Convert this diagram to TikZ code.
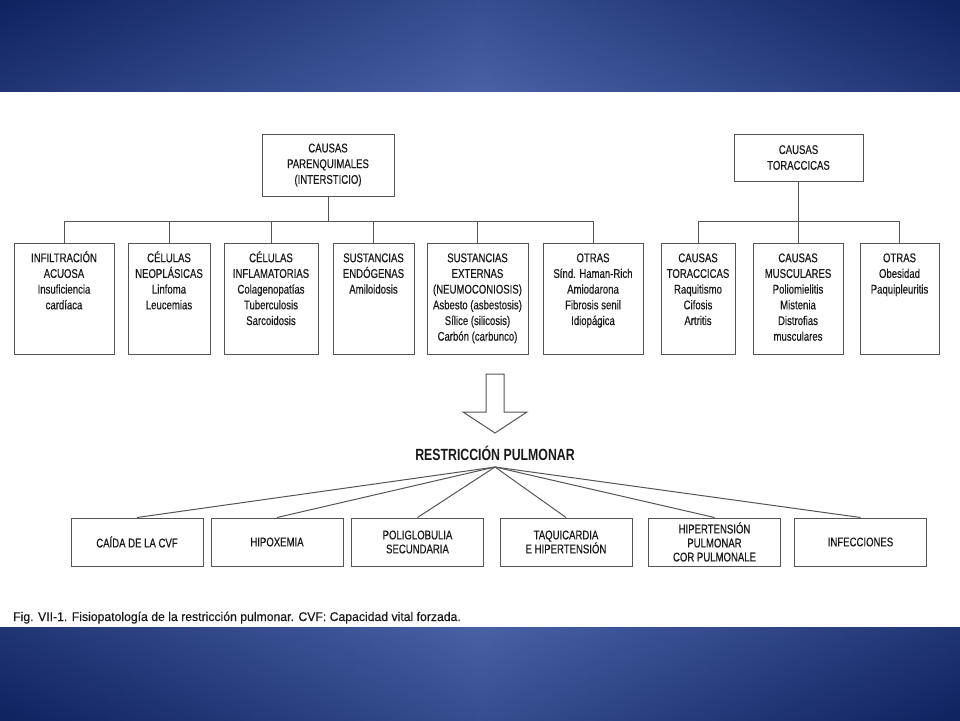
\documentclass[tikz,border=0pt]{standalone}
\usepackage{fontspec}
\setmainfont{Liberation Sans}[FakeStretch=0.76, UprightFeatures={FakeBold=0.4}]
\newfontfamily\pie{Liberation Sans}[FakeStretch=0.97, UprightFeatures={FakeBold=0.3}]
\usetikzlibrary{positioning}

\definecolor{azulclaro}{RGB}{72,98,165}
\definecolor{azulosc}{RGB}{16,34,96}
\definecolor{linea}{RGB}{85,85,85}
\definecolor{tinta}{RGB}{25,25,25}

\tikzset{
  caja/.style = {draw = linea, line width = 1pt, inner sep = 0pt},
  texto/.style = {align = center, text = tinta, inner sep = 0pt, font = \fontsize{12.6}{15.7}\selectfont},
  efecto/.style = {align = center, text = tinta, inner sep = 0pt, font = \fontsize{12.6}{14}\selectfont},
  rama/.style = {draw = linea, line width = 1pt},
  banda/.style = {left color = azulosc, right color = azulosc, middle color = azulclaro}
}

\begin{document}
\begin{tikzpicture}[x = 1pt, y = -1pt]
\useasboundingbox (0,0) rectangle (960,720);

% fondo azul
\shade[banda] (0,0) rectangle (960,92);
\shade[banda] (0,627) rectangle (960,720);
\shade[top color = azulosc, bottom color = azulclaro, opacity = 0.3] (0,0) rectangle (960,92);
\shade[top color = azulclaro, bottom color = azulosc, opacity = 0.3] (0,627) rectangle (960,720);
\fill[white] (0,92) rectangle (960,627);

% causas
\node[caja, texto, minimum width = 132, minimum height = 62] (parenq) at (328,165) {CAUSAS\\PARENQUIMALES\\(INTERSTICIO)};
\node[caja, texto, minimum width = 129, minimum height = 47] (torac) at (798.5,157.5) {CAUSAS\\TORACCICAS};

\foreach \n/\cx/\w/\txt in {
  infil/64/100/{INFILTRACIÓN\\ACUOSA\\Insuficiencia\\cardíaca},
  neopl/169/82/{CÉLULAS\\NEOPLÁSICAS\\Linfoma\\Leucemias},
  inflam/271/94/{CÉLULAS\\INFLAMATORIAS\\Colagenopatías\\Tuberculosis\\Sarcoidosis},
  endog/373.5/81/{SUSTANCIAS\\ENDÓGENAS\\Amiloidosis},
  extern/477.5/101/{SUSTANCIAS\\EXTERNAS\\(NEUMOCONIOSIS)\\Asbesto (asbestosis)\\Sílice (silicosis)\\Carbón (carbunco)},
  otras/593/100/{OTRAS\\Sínd. Haman-Rich\\Amiodarona\\Fibrosis senil\\Idiopágica},
  toracb/698/74/{CAUSAS\\TORACCICAS\\Raquitismo\\Cifosis\\Artritis},
  musc/798/90/{CAUSAS\\MUSCULARES\\Poliomielitis\\Mistenia\\Distrofias\\musculares},
  otrasb/899.5/79/{OTRAS\\Obesidad\\Paquipleuritis}}
{
  \node[caja, minimum width = \w, minimum height = 111] (\n) at (\cx,298.5) {};
  \node[texto, anchor = north] (\n-t) at ([yshift = -8.5pt] \n.north) {\strut\txt};
}

\coordinate (bus) at (0,221);
\draw[rama] (parenq.south) -- (parenq.south |- bus);
\draw[rama] (infil.north) -- (infil.north |- bus) -- (otras.north |- bus) -- (otras.north);
\foreach \n in {neopl, inflam, endog, extern}
  \draw[rama] (\n.north) -- (\n.north |- bus);

\draw[rama] (torac.south) -- (torac.south |- musc.north);
\draw[rama] (toracb.north) -- (toracb.north |- bus) -- (otrasb.north |- bus) -- (otrasb.north);

% flecha
\draw[rama, fill = white] (486,374) -- (504,374) -- (504,412) -- (527,412) -- (495,433) -- (463,412) -- (486,412) -- cycle;

\node[text = tinta, inner sep = 0pt, anchor = base, font = \bfseries\fontsize{16.2}{18}\selectfont] (restr) at (495,460) {RESTRICCIÓN PULMONAR};
\coordinate (abanico) at (495,467);

% consecuencias
\foreach \n/\cx/\txt in {
  cvf/137/{CAÍDA DE LA CVF},
  hipox/277/{HIPOXEMIA},
  poli/417.5/{POLIGLOBULIA\\SECUNDARIA},
  taqui/566/{TAQUICARDIA\\E HIPERTENSIÓN},
  hiper/714.5/{HIPERTENSIÓN\\PULMONAR\\COR PULMONALE},
  infec/860.5/{INFECCIONES}}
{
  \node[caja, efecto, minimum width = 132, minimum height = 48] (\n) at (\cx,542) {\txt};
  \draw[rama] (abanico) -- (\n.north);
}

\node[text = tinta, inner sep = 0pt, anchor = base west, font = \pie\fontsize{12.6}{15}\selectfont] (pie) at (13,621) {Fig. VII-1. Fisiopatología de la restricción pulmonar. CVF: Capacidad vital forzada.};
\end{tikzpicture}
\end{document}
